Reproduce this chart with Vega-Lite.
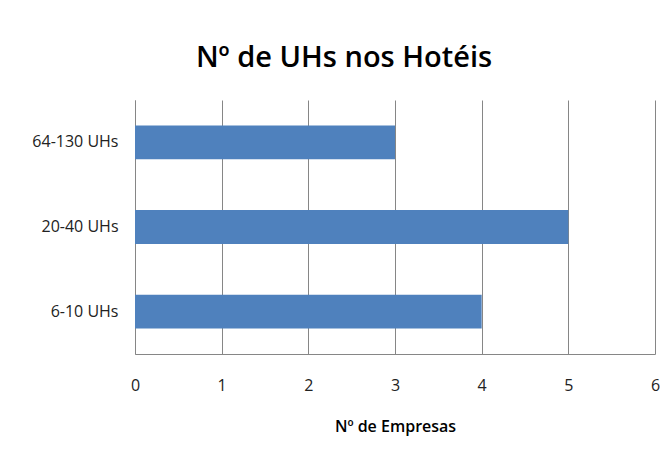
{
  "$schema": "https://vega.github.io/schema/vega-lite/v6.json",
  "width": 520,
  "height": 254,
  "autosize": {"type": "none"},
  "padding": {"left": 135, "top": 100, "right": 11, "bottom": 103},
  "background": "white",
  "title": {
    "text": "Nº de UHs nos Hotéis",
    "anchor": "middle",
    "dx": -51,
    "offset": 27,
    "font": "Open Sans",
    "fontSize": 29,
    "fontWeight": 600,
    "color": "#000000"
  },
  "data": {
    "values": [
      {"faixa": "64-130 UHs", "empresas": 3},
      {"faixa": "20-40 UHs", "empresas": 5},
      {"faixa": "6-10 UHs", "empresas": 4}
    ]
  },
  "mark": {"type": "bar", "color": "#4F81BD"},
  "encoding": {
    "y": {
      "field": "faixa",
      "type": "nominal",
      "sort": ["64-130 UHs", "20-40 UHs", "6-10 UHs"],
      "scale": {"paddingInner": 0.6, "paddingOuter": 0.3},
      "axis": {
        "title": null,
        "ticks": false,
        "grid": false,
        "domain": true,
        "domainColor": "#868686",
        "labelFont": "Open Sans",
        "labelFontSize": 16,
        "labelColor": "#222222",
        "labelPadding": 17
      }
    },
    "x": {
      "field": "empresas",
      "type": "quantitative",
      "scale": {"domain": [0, 6], "nice": false},
      "axis": {
        "title": "Nº de Empresas",
        "titleFont": "Open Sans",
        "titleFontSize": 16,
        "titleFontWeight": 600,
        "titleColor": "#000000",
        "titlePadding": 25,
        "values": [0, 1, 2, 3, 4, 5, 6],
        "labelOverlap": false,
        "labelFlush": false,
        "ticks": false,
        "grid": true,
        "gridColor": "#868686",
        "gridOpacity": 1,
        "domainColor": "#868686",
        "labelFont": "Open Sans",
        "labelFontSize": 16,
        "labelColor": "#222222",
        "labelPadding": 23,
        "format": "d"
      }
    }
  },
  "config": {
    "view": {"stroke": null}
  }
}
